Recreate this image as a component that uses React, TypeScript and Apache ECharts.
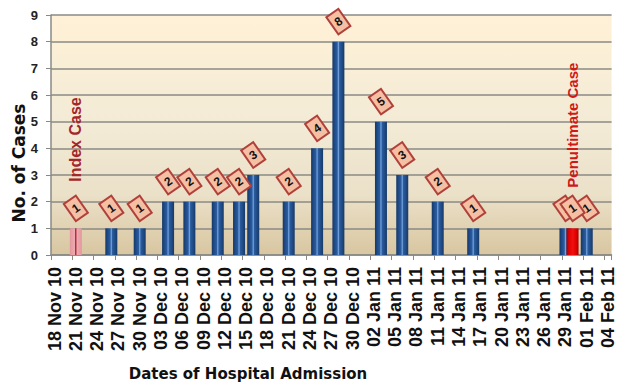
import React, { useEffect, useRef } from "react";
import * as echarts from "echarts";

// ---- data ----
const startDay = [2010, 10, 18]; // 18 Nov 2010
const endDay = [2011, 1, 4]; // 04 Feb 2011
const monthNames = ["Jan", "Feb", "Mar", "Apr", "May", "Jun", "Jul", "Aug", "Sep", "Oct", "Nov", "Dec"];

const caseDates = [
  "26 Nov 10", "30 Nov 10", "04 Dec 10", "07 Dec 10", "11 Dec 10", "14 Dec 10",
  "16 Dec 10", "21 Dec 10", "25 Dec 10", "28 Dec 10", "03 Jan 11", "06 Jan 11",
  "11 Jan 11", "16 Jan 11", "29 Jan 11", "01 Feb 11",
];
const caseCounts = [1, 1, 2, 2, 2, 2, 3, 2, 4, 8, 5, 3, 2, 1, 1, 1];

const specialDates = ["21 Nov 10", "30 Jan 11"];
const specialCounts = [1, 1];
const specialNames = ["Index Case", "Penultimate Case"];
const specialNoteLevels = [4.33, 4.87];

const yTicks = [0, 1, 2, 3, 4, 5, 6, 7, 8, 9];

function buildDays(): string[] {
  const out: string[] = [];
  const t0 = Date.UTC(startDay[0], startDay[1], startDay[2]);
  const t1 = Date.UTC(endDay[0], endDay[1], endDay[2]);
  for (let t = t0; t <= t1; t += 86400000) {
    const d = new Date(t);
    const dd = String(d.getUTCDate()).padStart(2, "0");
    const yy = String(d.getUTCFullYear() % 100).padStart(2, "0");
    out.push(`${dd} ${monthNames[d.getUTCMonth()]} ${yy}`);
  }
  return out;
}

const FONT = "'Liberation Sans', Arial, sans-serif";

export default function App() {
  const ref = useRef<HTMLDivElement>(null);
  useEffect(() => {
    if (!ref.current) return;
    const chart = echarts.init(ref.current, undefined, { renderer: "svg" });
    const days = buildDays();
    const blueData = days.map((d) => {
      const i = caseDates.indexOf(d);
      return i >= 0 ? caseCounts[i] : "-";
    });
    const specialColors = [
      new echarts.graphic.LinearGradient(0, 0, 1, 0, [
        { offset: 0, color: "#e3979d" },
        { offset: 0.42, color: "#eeaab0" },
        { offset: 0.47, color: "#b03040" },
        { offset: 0.53, color: "#b03040" },
        { offset: 0.58, color: "#eeaab0" },
        { offset: 1, color: "#e3979d" },
      ]),
      new echarts.graphic.LinearGradient(0, 0, 1, 0, [
        { offset: 0, color: "#a80000" },
        { offset: 0.2, color: "#e00000" },
        { offset: 0.5, color: "#f01010" },
        { offset: 0.8, color: "#e00000" },
        { offset: 1, color: "#a80000" },
      ]),
    ];
    const specialData = days.map((d) => {
      const i = specialDates.indexOf(d);
      return i >= 0 ? { value: specialCounts[i], itemStyle: { color: specialColors[i] } } : "-";
    });
    const blueGrad = new echarts.graphic.LinearGradient(0, 0, 1, 0, [
      { offset: 0, color: "#163868" },
      { offset: 0.25, color: "#22508f" },
      { offset: 0.4, color: "#2b5c9e" },
      { offset: 0.5, color: "#74a4e0" },
      { offset: 0.6, color: "#2b5c9e" },
      { offset: 1, color: "#173a6a" },
    ]);
    const valueLabel = {
      show: true,
      position: "top" as const,
      distance: 20,
      align: "center",
      verticalAlign: "middle",
      rotate: 35,
      formatter: "{c}",
      color: "#111",
      fontWeight: "bold",
      fontSize: 12,
      fontFamily: FONT,
      lineHeight: 12,
      backgroundColor: "#f5bfa4",
      borderColor: "#b0413a",
      borderWidth: 2,
      padding: [4, 3, 3, 3],
    };
    const option: any = {
      animation: false,
      grid: {
        left: 51,
        right: 1,
        top: 15,
        bottom: 127,
        show: true,
        borderWidth: 0,
        backgroundColor: new echarts.graphic.LinearGradient(0, 0, 0, 1, [
          { offset: 0, color: "#fff1d6" },
          { offset: 0.45, color: "#f3ebd6" },
          { offset: 0.75, color: "#ebe0c8" },
          { offset: 1, color: "#d8c6a0" },
        ]),
      },
      xAxis: {
        type: "category",
        data: days,
        boundaryGap: true,
        axisLine: { show: true, lineStyle: { color: "#8a8a85", width: 1.5 } },
        axisTick: { show: true, interval: 2, length: 5, lineStyle: { color: "#8a8a85" } },
        axisLabel: {
          interval: 2,
          rotate: 90,
          margin: 12,
          color: "#111",
          fontSize: 18,
          fontWeight: "bold",
          fontFamily: FONT,
        },
        splitLine: { show: false },
      },
      yAxis: {
        type: "value",
        min: yTicks[0],
        max: yTicks[yTicks.length - 1],
        interval: 1,
        axisLine: { show: true, lineStyle: { color: "#8a8a85", width: 1.5 } },
        axisTick: { show: true, length: 5, lineStyle: { color: "#8a8a85" } },
        axisLabel: {
          margin: 13,
          color: "#222",
          fontSize: 13,
          fontWeight: "bold",
          fontFamily: FONT,
        },
        splitLine: { show: true, lineStyle: { color: "#8a8a85", width: 1.5 } },
      },
      series: [
        {
          type: "bar",
          data: blueData,
          barWidth: 12,
          barGap: "-100%",
          itemStyle: { color: blueGrad },
          label: valueLabel,
        },
        {
          type: "bar",
          data: specialData,
          barWidth: 12,
          barGap: "-100%",
          label: valueLabel,
          markPoint: {
            symbol: "circle",
            symbolSize: 0,
            silent: true,
            data: specialNames.map((n, i) => ({
              coord: [specialDates[i], specialNoteLevels[i]],
              label: {
                show: true,
                position: "inside",
                rotate: 90,
                formatter: n,
                color: i === 0 ? "#a3262a" : "#d01818",
                fontSize: i === 0 ? 16 : 15,
                fontWeight: "bold",
                fontFamily: FONT,
              },
            })),
          },
        },
      ],
      graphic: [
        {
          type: "text",
          x: 19,
          y: 163,
          rotation: Math.PI / 2,
          style: {
            text: "No. of Cases",
            fill: "#111",
            font: "bold 17px 'DejaVu Sans', sans-serif",
            align: "center",
            verticalAlign: "middle",
          },
        },
        {
          type: "text",
          x: 248,
          y: 374,
          style: {
            text: "Dates of Hospital Admission",
            fill: "#111",
            font: "bold 15px 'DejaVu Sans', sans-serif",
            align: "center",
            verticalAlign: "middle",
          },
        },
      ],
    };
    chart.setOption(option);
    return () => chart.dispose();
  }, []);
  return (
    <div
      ref={ref}
      style={{ position: "fixed", left: 0, top: 0, width: 617, height: 382, background: "#fff" }}
    />
  );
}
